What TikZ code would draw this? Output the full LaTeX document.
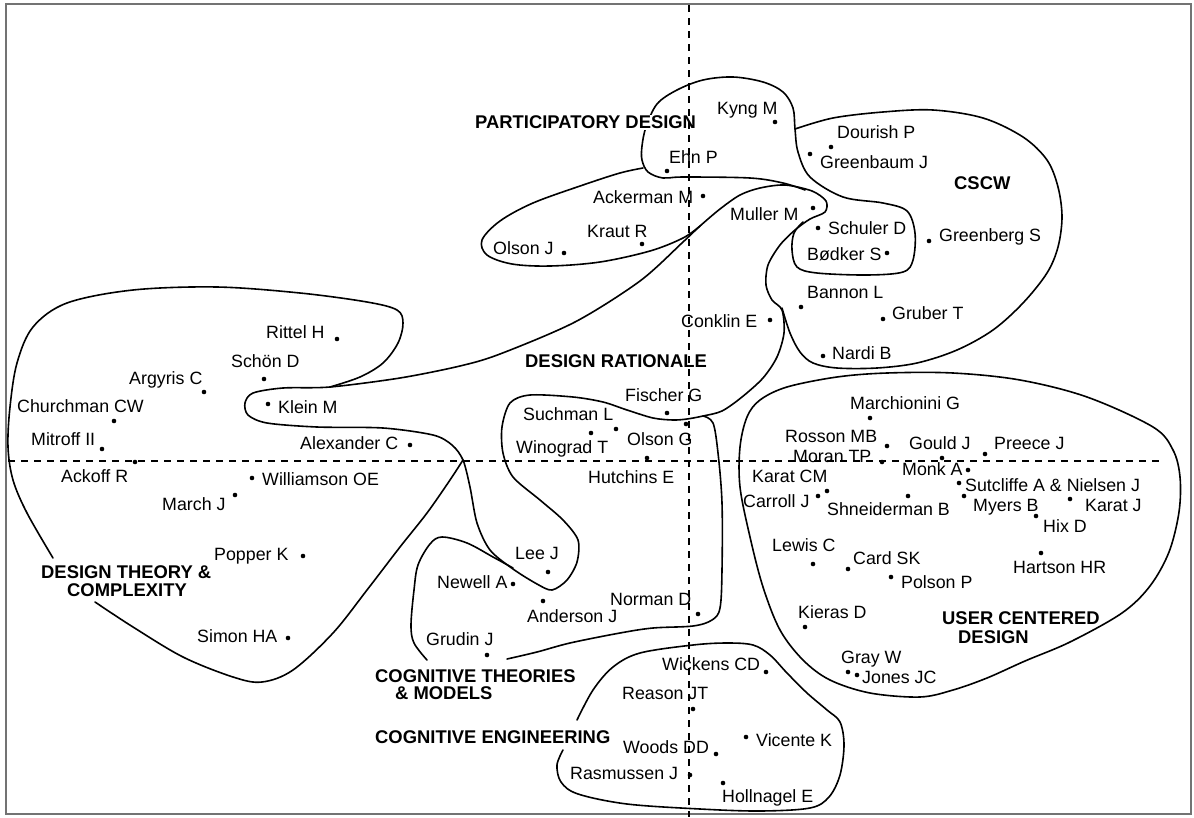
\documentclass[tikz,border=0pt]{standalone}
\usepackage{fontspec}
\setmainfont{Liberation Sans}
\newcommand\au[4]{\node[dotn] (#1d) at (#2) {}; \node[nm] (#1) at (#3) {#4};}
\begin{document}
\begin{tikzpicture}[x=1pt,y=-1pt,
  region/.style={line width=1.6pt, line join=round, line cap=round},
  axis/.style={line width=1.1pt, dash pattern=on 7pt off 6pt},
  framec/.style={line width=2pt, draw=black!55},
  dotn/.style={circle, fill=black, inner sep=0pt, minimum size=4.6pt},
  nm/.style={anchor=base west, inner sep=0pt, font=\fontsize{17.8}{20}\selectfont},
  grp/.style={anchor=base west, inner sep=0pt, font=\fontsize{18.4}{20}\selectfont\bfseries},
]
\useasboundingbox (0,0) rectangle (1194,817);
\fill[white] (0,0) rectangle (1194,817);
\coordinate (fa) at (6,4);
\coordinate (fb) at (1191,814);
\draw[framec] (fa) rectangle (fb);

% Kyng bubble + Bodker bubble
\draw[region] plot[smooth, tension=0.55] coordinates {(805,190) (783,183) (750,178) (683,177) (663,178) (648,172) (642,160) (642,146) (646,127) (657,104) (677,90) (703,80) (733,77) (763,82) (783,92) (793,108) (795,129) (798,152) (810,177) (843,197) (883,203) (907,211) (915,233) (913,260) (903,272) (867,275) (817,273) (797,267) (792,250) (794,233) (803,222)};
% Olson ellipse
\draw[region] plot[smooth, tension=0.55] coordinates {(643,168) (620,173) (583,185) (533,203) (500,221) (482,240) (487,255) (512,264) (550,266) (600,262) (650,251) (683,238) (700,226)};
% Design rationale (closed)
\draw[region] plot[smooth cycle, tension=0.5] coordinates {(330,387) (400,378) (460,366) (500,354) (575,322) (640,281) (683,242) (700,226) (720,209) (740,195) (760,188) (785,185) (812,191) (826,201) (825,212) (810,219) (795,230) (780,245) (768,265) (766,285) (772,300) (782,310) (784,333) (777,357) (763,378) (742,397) (722,411) (703,416) (687,419) (673,420) (653,418) (627,410) (603,402) (573,397) (530,395) (510,403) (502,427) (503,453) (513,477) (540,500) (563,520) (578,540) (577,562) (567,580) (552,590) (537,584) (513,569) (490,550) (477,523) (470,487) (463,460) (452,445) (433,435) (383,428) (317,427) (267,423) (248,415) (245,403) (253,393) (283,388)};
% CSCW
\draw[region] plot[smooth, tension=0.55] coordinates {(795,129) (833,118) (883,112) (933,110) (983,118) (1023,137) (1047,160) (1058,187) (1062,217) (1058,247) (1047,273) (1023,303) (993,330) (957,350) (917,363) (877,368) (837,368) (813,363) (800,352) (790,333) (782,308)};
% Design theory top
\draw[region] plot[smooth, tension=0.55] coordinates {(330,387) (360,377) (383,363) (398,343) (403,323) (397,310) (367,302) (300,293) (217,287) (133,290) (67,303) (33,327) (17,363) (10,407) (8,447) (13,480) (27,513) (53,558)};
% Design theory bottom
\draw[region] plot[smooth, tension=0.55] coordinates {(95,602) (133,627) (183,657) (233,677) (262,682) (293,670) (333,633) (367,590) (400,547) (427,513) (450,480) (463,460)};
% Cognitive theories left
\draw[region] plot[smooth, tension=0.55] coordinates {(427,660) (414,643) (411,625) (414,590) (418,565) (430,544) (442,537) (467,543) (493,557) (513,568)};
% Cognitive theories bottom / right
\draw[region] plot[smooth, tension=0.55] coordinates {(507,659) (537,652) (570,643) (620,633) (653,628) (693,626) (712,620) (720,608) (722,570) (722,503) (718,453) (713,423) (703,416)};
% Cognitive engineering
\draw[region] plot[smooth, tension=0.55] coordinates {(563,750) (557,765) (561,782) (578,794) (627,804) (700,809) (760,811) (810,808) (829,797) (840,775) (844,745) (840,722) (827,710) (807,693) (787,673) (770,655) (753,645) (727,643) (693,645) (640,653) (613,667) (593,690) (577,720)};
% User centered design
\draw[region] plot[smooth cycle, tension=0.55] coordinates {(747,417) (760,400) (787,387) (837,377) (887,373) (953,373) (1020,380) (1087,397) (1153,427) (1173,450) (1180,477) (1179,512) (1169,552) (1150,586) (1122,613) (1070,642) (1025,661) (987,678) (953,690) (920,697) (870,693) (830,680) (803,660) (780,630) (763,587) (750,537) (740,487) (740,447)};

\node[grp, fill=white, inner ysep=1pt] (pd) at (475,128.5) {PARTICIPATORY DESIGN};

% axes
\coordinate (vt) at (689,5);
\coordinate (vb) at (689,817);
\coordinate (hl) at (8,461);
\coordinate (hr) at (1163,461);
\draw[axis] (vt) -- (vb);
\draw[axis] (hl) -- (hr);

% group labels
\node[grp] (cscw) at (954,189.5) {CSCW};
\node[grp] (dr) at (525,367.5) {DESIGN RATIONALE};
\node[grp] (dt1) at (41,578.5) {DESIGN THEORY \&};
\node[grp] (dt2) at (67,596.5) {COMPLEXITY};
\node[grp] (ct1) at (375,682.5) {COGNITIVE THEORIES};
\node[grp] (ct2) at (395,699.5) {\& MODELS};
\node[grp] (ce) at (375,743.5) {COGNITIVE ENGINEERING};
\node[grp] (ucd1) at (942,624.5) {USER CENTERED};
\node[grp] (ucd2) at (958,643.5) {DESIGN};

% authors
\au{kyng}{775,122}{717,114.5}{Kyng M}
\au{dourish}{831,147}{837,138.5}{Dourish P}
\au{greenbaum}{810,154}{820,168.5}{Greenbaum J}
\au{ehn}{667,171}{669,163.5}{Ehn P}
\au{ackerman}{703,196}{593,203.5}{Ackerman M}
\au{muller}{813,208}{730,220.5}{Muller M}
\au{schuler}{818,228}{828,234.5}{Schuler D}
\au{bodker}{887,253}{807,260.5}{Bødker S}
\au{kraut}{642,244}{587,237.5}{Kraut R}
\au{olsonj}{564,253}{493,254.5}{Olson J}
\au{greenberg}{929,241}{939,241.5}{Greenberg S}
\au{bannon}{801,307}{807,298.5}{Bannon L}
\au{gruber}{883,319}{892,319.5}{Gruber T}
\au{nardi}{823,356}{832,359.5}{Nardi B}
\au{conklin}{770,320}{681,327.5}{Conklin E}
\au{rittel}{337,339}{266,338.5}{Rittel H}
\au{schon}{264,379}{231,367.5}{Schön D}
\au{argyris}{204,392}{129,384.5}{Argyris C}
\au{churchman}{114,421}{17,412.5}{Churchman CW}
\au{klein}{268,404}{278,413.5}{Klein M}
\au{mitroff}{102,449}{31,445.5}{Mitroff II}
\au{alexander}{410,445}{300,449.5}{Alexander C}
\au{ackoff}{135,462}{61,482.5}{Ackoff R}
\au{williamson}{252,478}{262,485.5}{Williamson OE}
\au{march}{235,495}{162,510.5}{March J}
\au{popper}{303,556}{214,560.5}{Popper K}
\au{simon}{288,638}{197,642.5}{Simon HA}
\au{fischer}{667,413}{625,401.5}{Fischer G}
\au{suchman}{616,429}{523,420.5}{Suchman L}
\au{winograd}{591,433}{516,453.5}{Winograd T}
\au{olsong}{686,424}{627,445.5}{Olson G}
\au{hutchins}{647,458}{588,483.5}{Hutchins E}
\au{lee}{548,572}{515,559.5}{Lee J}
\au{newell}{513,584}{437,588.5}{Newell A}
\au{anderson}{543,601}{527,622.5}{Anderson J}
\au{norman}{698,614}{610,605.5}{Norman D}
\au{grudin}{487,655}{426,645.5}{Grudin J}
\au{wickens}{766,672}{662,670.5}{Wickens CD}
\au{reason}{693,709}{622,699.5}{Reason JT}
\au{vicente}{746,737}{756,746.5}{Vicente K}
\au{woods}{716,754}{623,753.5}{Woods DD}
\au{rasmussen}{690,775}{570,779.5}{Rasmussen J}
\au{hollnagel}{723,783}{722,802}{Hollnagel E}
\au{marchionini}{870,418}{850,409.5}{Marchionini G}
\au{rosson}{887,446}{785,442.5}{Rosson MB}
\au{gould}{942,458}{909,449.5}{Gould J}
\au{preece}{985,454}{994,449.5}{Preece J}
\au{moran}{882,462}{793,462.5}{Moran TP}
\au{monk}{968,470}{902,475.5}{Monk A}
\au{karatcm}{827,491}{752,482.5}{Karat CM}
\au{carroll}{818,496}{743,507.5}{Carroll J}
\au{sutcliffe}{959,483}{965,491.5}{Sutcliffe A \& Nielsen J}
\au{shneiderman}{908,496}{827,515.5}{Shneiderman B}
\au{myers}{964,496}{973,511.5}{Myers B}
\au{karatj}{1070,499}{1085,511.5}{Karat J}
\au{hix}{1036,516}{1043,532.5}{Hix D}
\au{lewis}{813,564}{772,551.5}{Lewis C}
\au{card}{848,569}{853,564.5}{Card SK}
\au{hartson}{1041,553}{1013,573.5}{Hartson HR}
\au{polson}{891,577}{901,588.5}{Polson P}
\au{kieras}{805,627}{798,618.5}{Kieras D}
\au{gray}{848,672}{841,663.5}{Gray W}
\au{jones}{857,675}{862,683.5}{Jones JC}
\end{tikzpicture}
\end{document}
